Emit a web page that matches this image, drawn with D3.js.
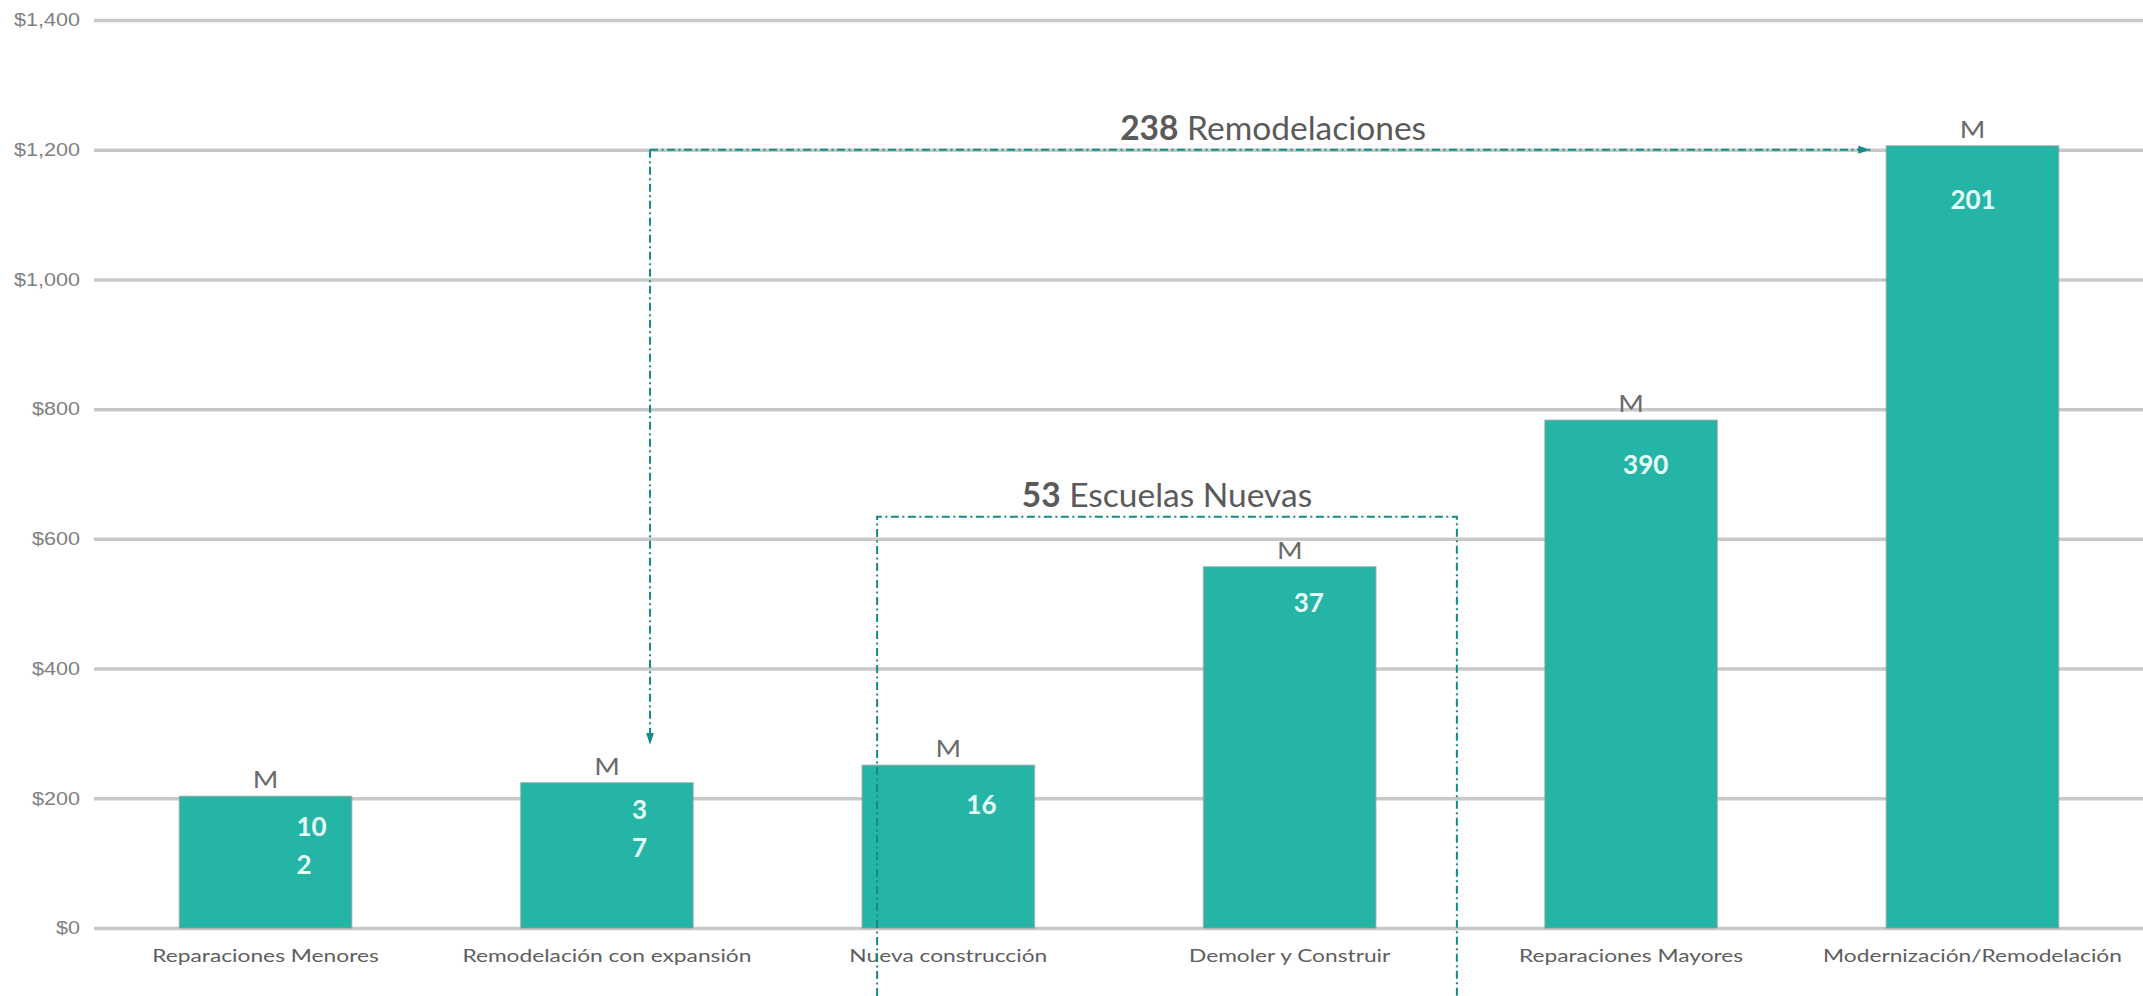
<!DOCTYPE html>
<html>
<head>
<meta charset="utf-8">
<script src="https://cdn.jsdelivr.net/npm/d3@7"></script>
<style>
  body { margin: 0; background: #fff; }
  svg { display: block; font-family: Lato, "Open Sans", sans-serif; }
</style>
</head>
<body>
<svg id="chart" width="2143" height="996"></svg>
<script>
// values (millions of dollars)
const categories = [
  'Reparaciones Menores',
  'Remodelación con expansión',
  'Nueva construcción',
  'Demoler y Construir',
  'Reparaciones Mayores',
  'Modernización/Remodelación'
];
const values = [203, 224, 251, 557, 783, 1206];
const unitLabels = ['M', 'M', 'M', 'M', 'M', 'M'];
const countLabels = [['10', '2'], ['3', '7'], ['16'], ['37'], ['390'], ['201']];
const yTicks = [0, 200, 400, 600, 800, 1000, 1200, 1400];

// where the white counts sit inside each bar (nudges from the picture)
const countDx = [31, 25, 18, 4, -8, -22];
const countDy = [30, 27, 39, 36, 44, 54];

const W = 2143, H = 996;
const margin = { top: 20, right: 0, bottom: 68, left: 94 };
const teal = '#25b5a6';
const dash = '#148a8a';
const stretch = 1.2; // the original chart was widened a bit

const svg = d3.select('#chart');

const x = d3.scaleBand()
  .domain(categories)
  .range([margin.left, W - margin.right + 1])
  .paddingInner(0.495)
  .paddingOuter(0.25);

const y = d3.scaleLinear()
  .domain([0, 1400])
  .range([H - margin.bottom, margin.top]);

// gridlines + y labels
const yAxis = svg.append('g')
  .attr('transform', `translate(${margin.left},0)`)
  .call(d3.axisLeft(y)
    .tickValues(yTicks)
    .tickSize(-(W - margin.left))
    .tickPadding(0)
    .tickFormat(d3.format('$,')));

yAxis.select('.domain').remove();
yAxis.selectAll('.tick line')
  .attr('stroke', '#c8c8c8')
  .attr('stroke-width', 3.5);
yAxis.selectAll('.tick text')
  .attr('x', -14 / stretch)
  .attr('transform', `scale(${stretch},1)`)
  .attr('fill', '#808080')
  .attr('font-size', 18);

// bars
svg.append('g')
  .selectAll('rect')
  .data(values)
  .join('rect')
  .attr('x', (d, i) => x(categories[i]))
  .attr('y', d => y(d))
  .attr('width', x.bandwidth())
  .attr('height', d => y(0) - y(d))
  .attr('fill', teal)
  .attr('stroke', '#8a9e9b')
  .attr('stroke-opacity', 0.55)
  .attr('stroke-width', 1.5);

const cx = i => x(categories[i]) + x.bandwidth() / 2;

// "M" above bars
svg.append('g')
  .selectAll('text')
  .data(unitLabels)
  .join('text')
  .attr('transform', (d, i) => `translate(${cx(i)},${y(values[i]) - 8}) scale(${stretch},1)`)
  .attr('text-anchor', 'middle')
  .attr('font-size', 23)
  .attr('fill', '#6b6b6b')
  .text(d => d);

// white counts inside bars
const counts = svg.append('g')
  .selectAll('text')
  .data(countLabels)
  .join('text')
  .attr('x', (d, i) => cx(i) + countDx[i])
  .attr('y', (d, i) => y(values[i]) + countDy[i] + 9.5)
  .attr('font-size', 26)
  .attr('font-weight', 700)
  .attr('fill', '#e6fffb');

counts.selectAll('tspan')
  .data(d => d)
  .join('tspan')
  .attr('x', function () { return d3.select(this.parentNode).attr('x'); })
  .attr('dy', (d, j) => j === 0 ? 0 : 38)
  .text(d => d);

// category labels
svg.append('g')
  .selectAll('text')
  .data(categories)
  .join('text')
  .attr('transform', (d, i) => `translate(${cx(i)},${y(0) + 34}) scale(1.3,1)`)
  .attr('text-anchor', 'middle')
  .attr('font-size', 17.5)
  .attr('fill', '#5e5e5e')
  .text(d => d);

// annotations
const defs = svg.append('defs');
defs.append('marker')
  .attr('id', 'arrow')
  .attr('viewBox', '0 0 12 8')
  .attr('refX', 12)
  .attr('refY', 4)
  .attr('markerWidth', 12)
  .attr('markerHeight', 8)
  .attr('markerUnits', 'userSpaceOnUse')
  .attr('orient', 'auto')
  .append('path')
  .attr('d', 'M0,0L12,4L0,8Z')
  .attr('fill', dash);

const ann = svg.append('g')
  .attr('fill', 'none')
  .attr('stroke', dash)
  .attr('stroke-width', 2)
  .attr('stroke-dasharray', '8,3.5,2,3.5');

// 238 Remodelaciones
const rx0 = x(categories[1]) + x.bandwidth() * 0.75;
const rx1 = x(categories[5]) - 16;
const ry = y(1200);
ann.append('path')
  .attr('d', `M${rx0},${ry}H${rx1}`)
  .attr('marker-end', 'url(#arrow)');
ann.append('path')
  .attr('d', `M${rx0},${ry}V${y(values[1]) - 38}`)
  .attr('marker-end', 'url(#arrow)');

// 53 Escuelas Nuevas
const ex0 = x(categories[2]) + 15;
const ex1 = x(categories[4]) - 88;
const ey = y(values[3]) - 50;
ann.append('path')
  .attr('d', `M${ex0},${H}V${ey}H${ex1}V${H}`);

const titles = [
  { n: '238', t: ' Remodelaciones', x: (rx0 + rx1) / 2 + 13, y: ry - 10 },
  { n: '53', t: ' Escuelas Nuevas', x: (ex0 + ex1) / 2, y: ey - 10 }
];
const tt = svg.append('g')
  .selectAll('text')
  .data(titles)
  .join('text')
  .attr('x', d => d.x)
  .attr('y', d => d.y)
  .attr('text-anchor', 'middle')
  .attr('font-size', 33.5)
  .attr('fill', '#5a5a5a');
tt.append('tspan').attr('font-weight', 700).text(d => d.n);
tt.append('tspan').text(d => d.t);
</script>
</body>
</html>
